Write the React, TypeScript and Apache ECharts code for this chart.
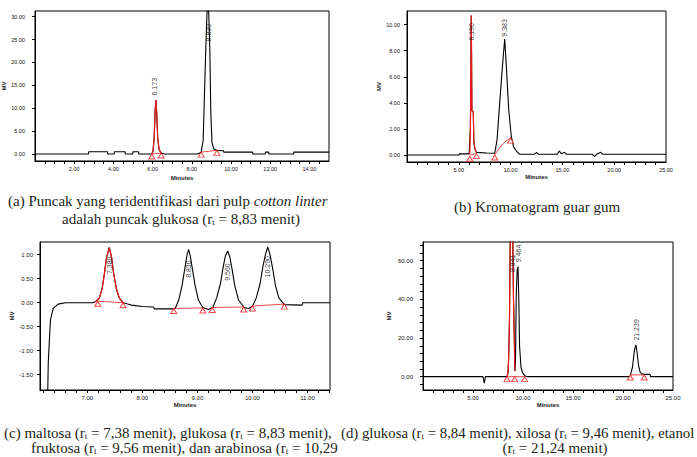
import React, { useEffect, useRef } from "react";
import * as echarts from "echarts";

// ---------- data ----------
// Panel (a): pulp cotton linter
const traceA: number[][] = [
  [0, 0], [2.73, 0], [2.74, 0.5], [3.7, 0.5], [3.71, 0], [4.04, 0], [4.05, 0.5], [4.6, 0.5], [4.61, 0],
  [4.99, 0], [5.0, 0.5], [5.28, 0.5], [5.29, 0], [5.96, 0],
  [6.02, 0.6], [6.08, 3.5], [6.13, 9.5], [6.17, 11.8], [6.21, 9], [6.26, 3.5], [6.33, 1], [6.44, 0.2],
  [6.6, 0], [8.3, 0], [8.48, 0.4], [8.58, 3], [8.64, 12], [8.7, 21], [8.76, 29], [8.82, 35], [8.87, 30],
  [8.92, 22.7], [8.97, 9], [9.03, 2.5], [9.12, 1.1], [9.28, 0.8], [9.62, 0.7], [9.63, 0.4], [11.1, 0.4],
  [11.11, 0], [11.75, 0], [11.76, 0.4], [11.92, 0.4], [11.93, 0], [13.2, 0], [13.21, 0.4], [15, 0.4],
];
const redRangesA: number[][] = [[5.96, 6.44]];
const baselinesA: number[][][] = [[[5.96, 0], [6.44, 0.2]], [[8.48, 0.4], [9.28, 0.8]]];
const marksA: number[][] = [[5.96, 0], [6.44, 0.2], [8.48, 0.4], [9.28, 0.8]];
const labelsA: (number | string)[][] = [[6.12, 14.7, "6.173"], [8.85, 26.5, "8.830"]];
const aXTicks = [0.5, 1, 1.5, 2, 2.5, 3, 3.5, 4, 4.5, 5, 5.5, 6, 6.5, 7, 7.5, 8, 8.5, 9, 9.5, 10, 10.5, 11, 11.5, 12, 12.5, 13, 13.5, 14, 14.5];
const aXLabels = [2, 4, 6, 8, 10, 12, 14];
const aYLabels = [0, 5, 10, 15, 20, 25, 30];

// Panel (b): guar gum
const traceB: number[][] = [
  [0, 0], [5.04, 0], [5.05, 0.08], [6.0, 0.08],
  [6.06, 0.1], [6.12, 2], [6.17, 7], [6.2, 10.7], [6.23, 8], [6.26, 3.4], [6.4, 3.3], [6.45, 1], [6.55, 0.5], [6.7, 0.2],
  [7.7, 0.15], [7.72, 0.2], [8.47, 0.13], [8.69, 1.15], [8.95, 4.0], [9.21, 6.8], [9.43, 8.9], [9.59, 6.8],
  [9.82, 3.45], [10.07, 1.4], [10.3, 0.6], [10.56, 0.3], [10.88, 0.05], [12.3, 0.05], [12.5, 0.2], [12.7, 0.05],
  [14.5, 0.05], [14.7, 0.3], [14.9, 0.1], [15.2, 0.2], [15.4, 0.05], [17.9, 0.05], [18.1, -0.12], [18.3, 0.05],
  [18.7, 0.2], [18.9, 0.05], [25, 0.05],
];
const redRangesB: number[][] = [[6.06, 6.7]];
const baselinesB: number[][][] = [[[6.06, 0], [6.7, 0.1]], [[8.47, 0], [8.95, 0.55], [9.43, 0.98], [10.0, 1.3]]];
const marksB: number[][] = [[6.06, -0.1], [6.7, 0.1], [8.47, 0], [10.0, 1.3]];
const labelsB: (number | string)[][] = [[6.22, 9.45, "6.190"], [9.43, 9.75, "9.383"]];
const bXTicks = [1, 2, 3, 4, 5, 6, 7, 8, 9, 10, 11, 12, 13, 14, 15, 16, 17, 18, 19, 20, 21, 22, 23, 24];
const bXLabels = [5, 10, 15, 20, 25];
const bYLabels = [0, 2, 4, 6, 8, 10];

// Panel (c): sugar standards
const traceC: number[][] = [
  [6.28, -1.9], [6.29, -1.25], [6.31, -0.8], [6.33, -0.36], [6.38, -0.12], [6.47, -0.03], [6.6, 0], [7.1, 0],
  [7.15, 0.02], [7.22, 0.1], [7.27, 0.3], [7.31, 0.6], [7.35, 0.95], [7.4, 1.15], [7.44, 0.95], [7.48, 0.6],
  [7.53, 0.28], [7.58, 0.1], [7.65, 0.0], [7.8, -0.05], [8.0, -0.08], [8.2, -0.09], [8.22, -0.13], [8.55, -0.13],
  [8.6, -0.11], [8.66, 0.05], [8.72, 0.35], [8.77, 0.7], [8.81, 0.98], [8.84, 1.11], [8.87, 0.98], [8.91, 0.7],
  [8.96, 0.35], [9.02, 0.05], [9.1, -0.1], [9.2, -0.14], [9.28, -0.1], [9.35, 0.1], [9.42, 0.4], [9.47, 0.75],
  [9.51, 0.98], [9.55, 1.08], [9.59, 0.95], [9.63, 0.7], [9.68, 0.35], [9.75, 0.05], [9.85, -0.1], [9.93, -0.12],
  [10.0, -0.08], [10.07, 0.1], [10.14, 0.4], [10.19, 0.75], [10.24, 1.02], [10.28, 1.16], [10.32, 1.0],
  [10.37, 0.7], [10.42, 0.35], [10.48, 0.1], [10.58, -0.04], [10.9, -0.05], [10.92, 0], [11.41, 0],
];
const redRangesC: number[][] = [[7.15, 7.65]];
const baselinesC: number[][][] = [
  [[7.19, 0.03], [7.65, 0.0]],
  [[8.57, -0.12], [9.1, -0.11]],
  [[9.27, -0.1], [9.84, -0.09]],
  [[10.0, -0.07], [10.58, -0.03]],
];
const marksC: number[][] = [[7.19, 0.03], [7.65, 0.0], [8.57, -0.12], [9.1, -0.11], [9.27, -0.1], [9.84, -0.09], [10.0, -0.07], [10.58, -0.03]];
const labelsC: (number | string)[][] = [[7.4, 0.78, "7.380"], [8.84, 0.7, "8.830"], [9.55, 0.64, "9.560"], [10.28, 0.75, "10.290"]];
const cXTicks = [6.2, 6.4, 6.6, 6.8, 7, 7.2, 7.4, 7.6, 7.8, 8, 8.2, 8.4, 8.6, 8.8, 9, 9.2, 9.4, 9.6, 9.8, 10, 10.2, 10.4, 10.6, 10.8, 11, 11.2, 11.4];
const cXLabels = [7, 8, 9, 10, 11];
const cYLabels = [-1.5, -1, -0.5, 0, 0.5, 1];

// Panel (d): hydrolysate / fermentation
const traceD: number[][] = [
  [0, 0], [6.0, 0], [6.13, -3.4], [6.25, 0], [8.4, 0],
  [8.5, 2], [8.56, 8.6], [8.65, 30], [8.73, 75], [8.85, 80], [8.97, 75], [9.05, 40], [9.13, 20], [9.16, 10], [9.2, 3],
  [9.25, 8], [9.33, 44], [9.42, 55], [9.5, 57], [9.58, 40], [9.66, 15.5], [9.8, 5], [9.95, 2], [10.23, 0.3], [10.4, 0],
  [20.6, 0], [20.73, 0.5], [20.95, 5], [21.1, 12], [21.2, 15], [21.3, 16.4], [21.42, 12], [21.55, 6], [21.7, 2.5],
  [21.85, 1.5], [22.13, 1.2], [22.7, 1.2], [22.75, 0], [25, 0],
];
const redRangesD: number[][] = [[8.4, 9.2]];
const baselinesD: number[][][] = [[[8.4, 0], [10.16, 0]], [[20.73, 0.9], [22.13, 0.9]]];
const marksD: number[][] = [[8.4, 0], [9.16, 0], [10.16, 0], [20.73, 0.9], [22.13, 0.9]];
const labelsD: (number | string)[][] = [[8.9, 58.7, "8.841"], [9.57, 63.8, "9.464"], [21.35, 24.2, "21.239"]];
const dXTicks = [1, 2, 3, 4, 5, 6, 7, 8, 9, 10, 11, 12, 13, 14, 15, 16, 17, 18, 19, 20, 21, 22, 23, 24];
const dXLabels = [5, 10, 15, 20, 25];
const dYTicks = [-4, 0, 4, 8, 12, 16, 20, 24, 28, 32, 36, 40, 44, 48, 52, 56, 60, 64, 68];
const dYLabels = [0, 20, 40, 60];

// Captions
const capA1 = "(a) Puncak yang teridentifikasi dari pulp {i|cotton linter}";
const capA2 = "adalah puncak glukosa (r{s|t} = 8,83 menit)";
const capB = "(b) Kromatogram guar gum";
const capC1 = "(c) maltosa (r{s|t} = 7,38 menit), glukosa (r{s|t} = 8,83 menit),";
const capC2 = "fruktosa (r{s|t} = 9,56 menit), dan arabinosa (r{s|t} = 10,29";
const capD1 = "(d) glukosa (r{s|t} = 8,84 menit), xilosa (r{s|t} = 9,46 menit), etanol";
const capD2 = "(r{s|t} = 21,24 menit)";

// ---------- styling ----------
const SANS = "Liberation Sans";
const SERIF = "Liberation Serif";
const RED = "#ee1a1a";

const panels = [
  {
    grid: { left: 35, top: 11, width: 294, height: 150 },
    x: [0, 15], y: [-1.53, 31.24], xt: aXTicks, xl: aXLabels, yt: aYLabels, yl: aYLabels,
    fs: 5.5, ymargin: 10, yNameGap: 20, xNameGap: 14,
    trace: traceA, red: redRangesA, base: baselinesA, marks: marksA, labels: labelsA,
  },
  {
    grid: { left: 407, top: 11, width: 259, height: 151 },
    x: [0, 25], y: [-0.54, 11.05], xt: bXTicks, xl: bXLabels, yt: bYLabels, yl: bYLabels,
    fs: 5.5, ymargin: 7, yNameGap: 20, xNameGap: 12,
    trace: traceB, red: redRangesB, base: baselinesB, marks: marksB, labels: labelsB,
  },
  {
    grid: { left: 40, top: 242, width: 290, height: 148 },
    x: [6.14, 11.41], y: [-1.82, 1.265], xt: cXTicks, xl: cXLabels, yt: cYLabels, yl: cYLabels,
    fs: 6, ymargin: 7, yNameGap: 25, xNameGap: 12,
    trace: traceC, red: redRangesC, base: baselinesC, marks: marksC, labels: labelsC,
  },
  {
    grid: { left: 423, top: 242, width: 250, height: 148 },
    x: [0, 25], y: [-6.9, 69.7], xt: dXTicks, xl: dXLabels, yt: dYTicks, yl: dYLabels,
    fs: 6, ymargin: 10, yNameGap: 31, xNameGap: 12,
    trace: traceD, red: redRangesD, base: baselinesD, marks: marksD, labels: labelsD,
  },
];

function buildOption() {
  const grids: any[] = [];
  const xAxes: any[] = [];
  const yAxes: any[] = [];
  const series: any[] = [];

  panels.forEach((p, i) => {
    grids.push({ ...p.grid, show: true, borderColor: "#000", borderWidth: 1, backgroundColor: "#fff" });
    xAxes.push({
      type: "value", gridIndex: i, min: p.x[0], max: p.x[1],
      name: "Minutes", nameLocation: "middle", nameGap: p.xNameGap,
      nameTextStyle: { fontSize: 6, fontWeight: "bold", fontFamily: SANS, color: "#222" },
      axisLine: { show: true, onZero: false, lineStyle: { color: "#000", width: 1 } },
      axisTick: { show: true, inside: false, length: 3, customValues: p.xt, lineStyle: { color: "#000", width: 1 } },
      axisLabel: {
        show: true, customValues: p.xl, margin: 5, fontSize: p.fs, fontFamily: SANS, color: "#111",
        formatter: (v: number) => Number(v).toFixed(2),
      },
      splitLine: { show: false },
    });
    yAxes.push({
      type: "value", gridIndex: i, min: p.y[0], max: p.y[1],
      name: "MV", nameLocation: "middle", nameGap: p.yNameGap, nameRotate: 90,
      nameTextStyle: { fontSize: 6, fontWeight: "bold", fontFamily: SANS, color: "#222" },
      axisLine: { show: true, onZero: false, lineStyle: { color: "#000", width: 1 } },
      axisTick: { show: true, inside: false, length: 3, customValues: p.yt, lineStyle: { color: "#000", width: 1 } },
      axisLabel: {
        show: true, customValues: p.yl, margin: p.ymargin, fontSize: p.fs, fontFamily: SANS, color: "#111",
        formatter: (v: number) => Number(v).toFixed(2),
      },
      splitLine: { show: false },
    });

    series.push({
      type: "line", xAxisIndex: i, yAxisIndex: i, data: p.trace, showSymbol: false, symbol: "none",
      lineStyle: { color: "#000", width: 1.1 }, clip: true, silent: true, z: 2,
    });
    p.red.forEach((r) => {
      series.push({
        type: "line", xAxisIndex: i, yAxisIndex: i,
        data: p.trace.filter((pt) => pt[0] >= r[0] && pt[0] <= r[1]),
        showSymbol: false, symbol: "none", lineStyle: { color: RED, width: 1.2 }, clip: true, silent: true, z: 3,
      });
    });
    p.base.forEach((seg) => {
      series.push({
        type: "line", xAxisIndex: i, yAxisIndex: i, data: seg, showSymbol: false, symbol: "none",
        smooth: seg.length > 2 ? 0.4 : false,
        lineStyle: { color: RED, width: 0.8 }, clip: true, silent: true, z: 3,
      });
    });
    series.push({
      type: "scatter", xAxisIndex: i, yAxisIndex: i, data: p.marks, symbol: "triangle",
      symbolSize: [6, 5], symbolOffset: [0, 2.5],
      itemStyle: { color: "#fff", borderColor: RED, borderWidth: 1 }, silent: true, z: 4,
    });
    series.push({
      type: "scatter", xAxisIndex: i, yAxisIndex: i, data: p.labels, symbolSize: 1,
      itemStyle: { color: "rgba(0,0,0,0)" }, silent: true, z: 5,
      label: {
        show: true, position: "inside", rotate: 90, fontSize: 7, fontFamily: SANS, color: "#000",
        formatter: (q: any) => q.data[2],
      },
    });
  });

  const sub = { font: `9px "${SERIF}"`, fill: "#231f20", padding: [6, 0, 0, 0], lineHeight: 7 };
  const ital = { font: `italic 15px "${SERIF}"`, fill: "#231f20", lineHeight: 13 };
  const capStyle = (text: string, x: number, y: number, align = "left", size = 15) => ({
    type: "text",
    x, y,
    style: {
      text, font: `${size}px "${SERIF}"`, fill: "#231f20", align, verticalAlign: "middle", lineHeight: 13,
      rich: { s: sub, i: { ...ital, font: `italic ${size}px "${SERIF}"` } },
    },
    silent: true,
  });

  const graphic = [
    capStyle(capA1, 8, 201),
    capStyle(capA2, 62, 219),
    capStyle(capB, 537, 207, "center"),
    capStyle(capC1, 4, 433),
    capStyle(capC2, 31, 448),
    capStyle(capD1, 341, 433, "left", 14.8),
    capStyle(capD2, 555, 448, "center"),
  ];

  return {
    animation: false,
    backgroundColor: "#fff",
    grid: grids,
    xAxis: xAxes,
    yAxis: yAxes,
    series,
    graphic,
  };
}

export default function App() {
  const ref = useRef<HTMLDivElement>(null);
  useEffect(() => {
    if (!ref.current) return;
    const chart = echarts.init(ref.current, undefined, { renderer: "svg" });
    chart.setOption(buildOption() as any);
    return () => chart.dispose();
  }, []);
  return (
    <div
      ref={ref}
      style={{ position: "absolute", left: 0, top: 0, width: 697, height: 457, background: "#fff" }}
    />
  );
}
